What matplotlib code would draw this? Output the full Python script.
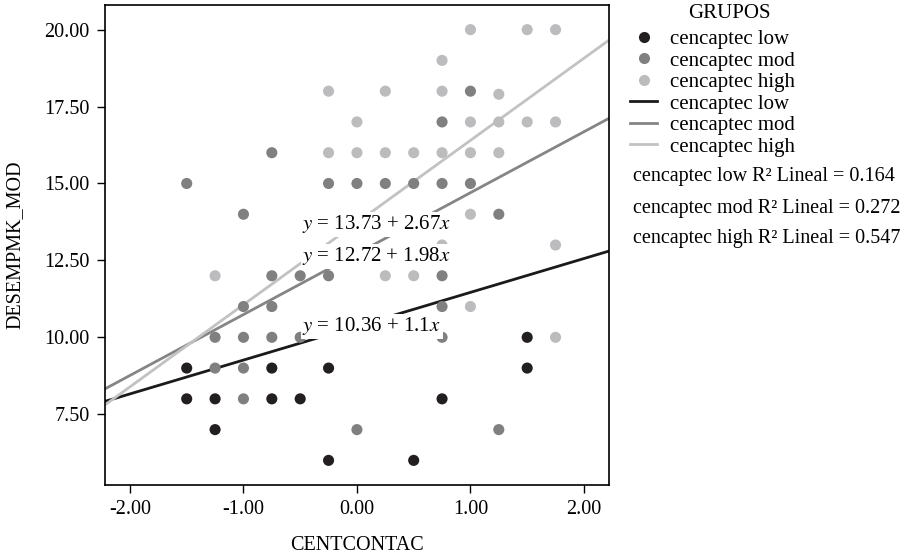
import numpy as np
import matplotlib
matplotlib.use("Agg")
import matplotlib.pyplot as plt
from matplotlib.lines import Line2D

plt.rcParams['font.family'] = ['Liberation Serif', 'DejaVu Serif']
plt.rcParams['mathtext.fontset'] = 'stix'

# data
low_x = [-1.5, -1.5, -1.25, -0.75, -0.25, -0.75, -0.5, -1.25, -0.25, 0.5, 1.5, 1.5, 0.75]
low_y = [9, 8, 8, 9, 9, 8, 8, 7, 6, 6, 10, 9, 8]

mod_x = [-1.5, -1.0, -0.75, -0.25, 0.0, 0.25, 0.5, 0.75, 1.0, 1.25, 0.75, 1.0,
         -0.75, -0.5, -0.25, -1.0, -0.75, -1.25, -1.0, -0.75, -0.5,
         -1.25, -1.0, -1.0, 0.0, 1.25, 0.75, 0.75, 0.75]
mod_y = [15, 14, 16, 15, 15, 15, 15, 15, 15, 14, 17, 18,
         12, 12, 12, 11, 11, 10, 10, 10, 10,
         9, 9, 8, 7, 7, 12, 11, 10]

high_x = [1.0, 1.5, 1.75, 0.75, -0.25, 0.25, 0.75, 1.25, 0.0, 1.0, 1.25, 1.5, 1.75,
          -0.25, 0.0, 0.25, 0.5, 0.75, 1.0, 1.25, 1.0,
          0.75, 1.75, -1.25, 0.25, 0.5, 1.0, 1.75]
high_y = [20, 20, 20, 19, 18, 18, 18, 17.9, 17, 17, 17, 17, 17,
          16, 16, 16, 16, 16, 16, 16, 14,
          13, 13, 12, 12, 12, 11, 10]

groups = ["cencaptec low", "cencaptec mod", "cencaptec high"]
intercepts = [10.36, 12.72, 13.73]
slopes = [1.1, 1.98, 2.67]
r2 = [0.164, 0.272, 0.547]
eq_pos = [(-0.48, 10.36), (-0.48, 12.63), (-0.48, 13.67)]

dot_colors = ["#231f20", "#808080", "#bcbcbe"]
line_colors = ["#1a1a1a", "#858585", "#c2c2c2"]

fig = plt.figure(figsize=(9.17, 5.59), dpi=100)
ax = fig.add_axes([0.1145, 0.1324, 0.5495, 0.8586])

xs = [low_x, mod_x, high_x]
ys = [low_y, mod_y, high_y]
for i in range(3):
    ax.scatter(xs[i], ys[i], s=64, color=dot_colors[i], edgecolors='none', zorder=3)

xl = np.array([-2.22, 2.22])
for i in range(3):
    ax.plot(xl, intercepts[i] + slopes[i] * xl, color=line_colors[i], lw=2, zorder=2)

for i in range(3):
    b = intercepts[i]
    m = slopes[i]
    txt = "$y$ = %g + %g$x$" % (b, m)
    ax.text(eq_pos[i][0], eq_pos[i][1], txt, fontsize=15, ha='left', va='center',
            zorder=4, bbox=dict(facecolor='white', edgecolor='none', pad=1.0))

ax.set_xlim(-2.22, 2.22)
ax.set_ylim(5.2, 20.8)
ax.set_xticks([-2, -1, 0, 1, 2])
ax.set_yticks([7.5, 10, 12.5, 15, 17.5, 20])
ax.set_xticklabels(["%.2f" % v for v in [-2, -1, 0, 1, 2]])
ax.set_yticklabels(["%.2f" % v for v in [7.5, 10, 12.5, 15, 17.5, 20]])
ax.tick_params(labelsize=14.5, length=6, width=1, direction='out', pad=5)
for s in ax.spines.values():
    s.set_linewidth(1.2)
ax.set_xlabel("CENTCONTAC", fontsize=14.5, labelpad=12)
ax.set_ylabel("DESEMPMK_MOD", fontsize=14.5, labelpad=14)

handles = []
for i in range(3):
    handles.append(Line2D([], [], ls='none', marker='o', markersize=8,
                          color=dot_colors[i], markeredgecolor='none'))
for i in range(3):
    handles.append(Line2D([], [], color=line_colors[i], lw=2))
labels = groups + groups
fig.text(729 / 917, 1 - 14 / 559, "GRUPOS", fontsize=15, ha='center', va='center')
fig.legend(handles, labels, loc='upper left',
           bbox_to_anchor=(0.6715, 0.973), frameon=False, fontsize=15,
           labelspacing=0.09, handlelength=1.3,
           handletextpad=0.6, borderpad=0.2)

for i in range(3):
    fig.text(633 / 917, 1 - (177 + 31 * i) / 559,
             "%s R² Lineal = %.3f" % (groups[i], r2[i]),
             fontsize=14.5, ha='left', va='center')

fig.savefig("out.png", dpi=100)
